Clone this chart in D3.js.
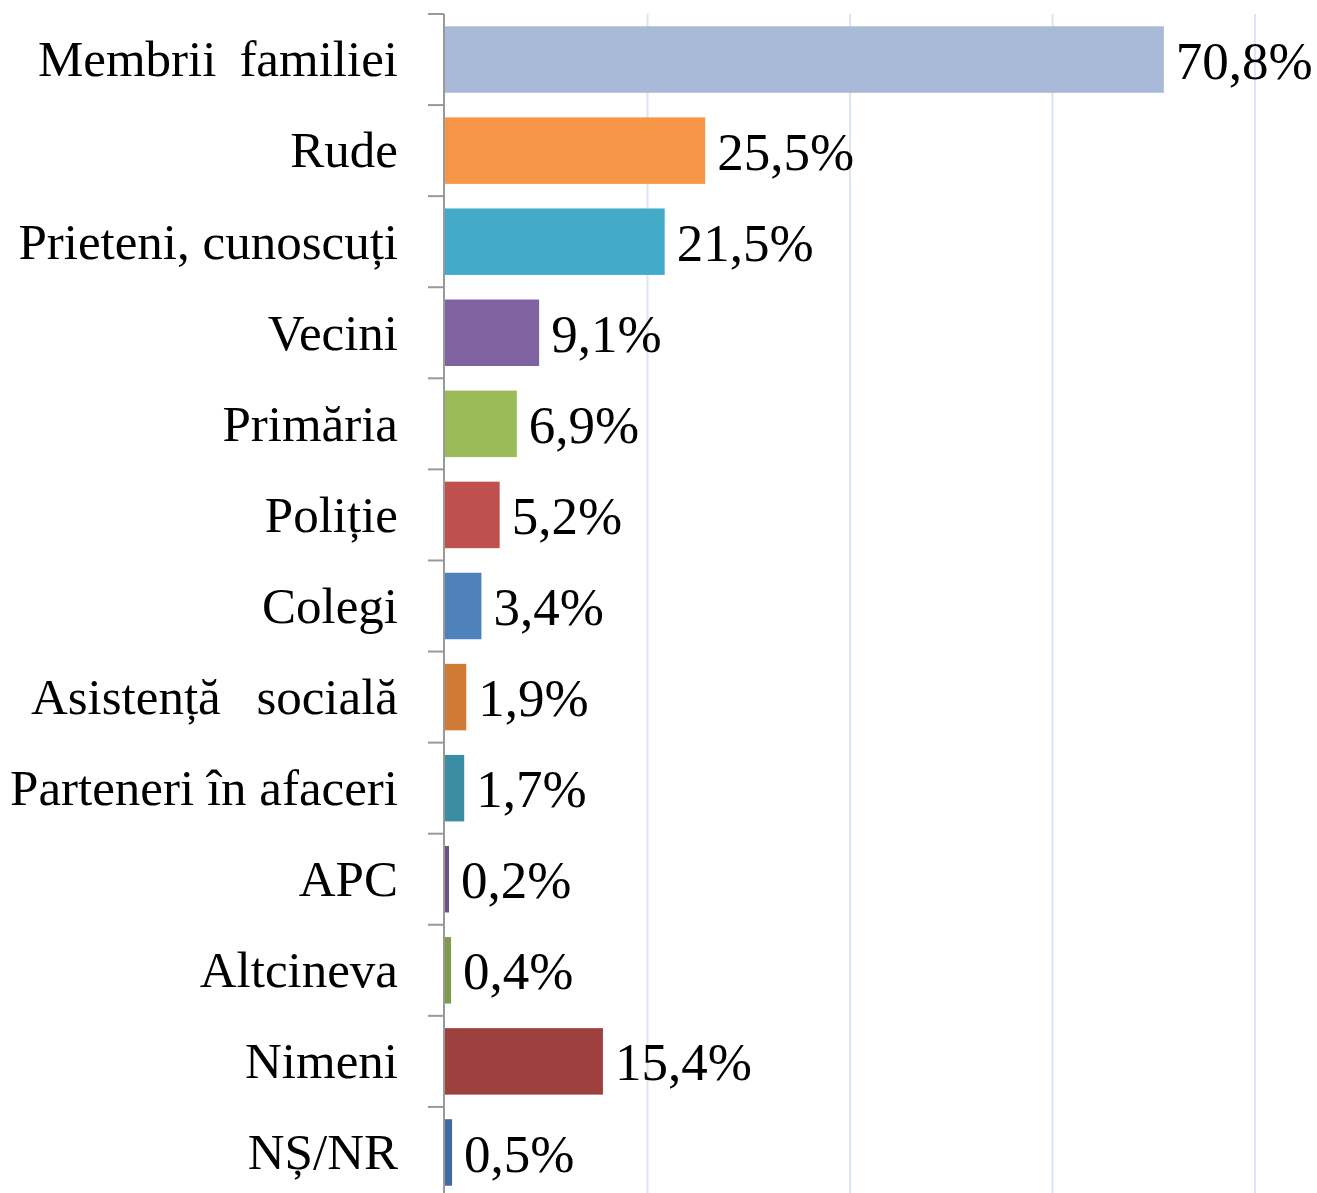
<!DOCTYPE html>
<html>
<head>
<meta charset="utf-8">
<script src="https://cdn.jsdelivr.net/npm/d3@7"></script>
<style>
    body { margin: 0; background: #fff; }
    svg text { font-family: "Liberation Serif", "Times New Roman", serif; fill: #000; }
</style>
</head>
<body>
<div id="chart"></div>
<script>
const categories = ["Membrii \u2009familiei", "Rude", "Prieteni, cunoscuți", "Vecini", "Primăria", "Poliție",
    "Colegi", "Asistență  \u2009socială", "Parteneri în afaceri", "APC", "Altcineva", "Nimeni", "NȘ/NR"];
const values = [70.8, 25.5, 21.5, 9.1, 6.9, 5.2, 3.4, 1.9, 1.7, 0.2, 0.4, 15.4, 0.5];
const barColors = ["#A9B9D8", "#F79646", "#43ABC8", "#8064A2", "#9BBB59", "#C0504D", "#4F81BD",
    "#CF7B36", "#3B8DA3", "#6A5187", "#7E9B48", "#9E413E", "#3F6AA1"];
const gridTicks = [0, 20, 40, 60, 80];

class BarChart {
    constructor(_config) {
        this.config = {
            parentElement: _config.parentElement,
            containerWidth: _config.containerWidth || 1317,
            containerHeight: _config.containerHeight || 1193,
            margin: _config.margin || {top: 14, right: 62, bottom: -5, left: 445}
        };
        this.initVis();
    }

    initVis() {
        let vis = this;
        vis.width = vis.config.containerWidth - vis.config.margin.left - vis.config.margin.right;
        vis.height = vis.config.containerHeight - vis.config.margin.top - vis.config.margin.bottom;

        vis.svg = d3.select(vis.config.parentElement).append("svg")
            .attr("width", vis.config.containerWidth)
            .attr("height", vis.config.containerHeight);

        vis.chart = vis.svg.append("g")
            .attr("transform", `translate(${vis.config.margin.left},${vis.config.margin.top})`);

        vis.x = d3.scaleLinear().domain([0, 80]).range([0, 810]);
        vis.y = d3.scaleBand().domain(categories).range([0, vis.height])
            .paddingInner(0.27).paddingOuter(0.135);

        vis.renderVis();
    }

    renderVis() {
        let vis = this;
        const data = categories.map((c, i) => ({cat: c, value: values[i], color: barColors[i]}));
        const barEnd = d => vis.x(d.value) + 2;

        // light vertical gridlines
        vis.chart.selectAll(".grid")
            .data(gridTicks.slice(1))
            .join("line")
            .attr("class", "grid")
            .attr("x1", d => vis.x(d)).attr("x2", d => vis.x(d))
            .attr("y1", 0).attr("y2", vis.height)
            .attr("stroke", "#DCE6F2")
            .attr("stroke-width", 2);

        vis.chart.selectAll(".bar")
            .data(data)
            .join("rect")
            .attr("class", "bar")
            .attr("x", -1)
            .attr("y", d => vis.y(d.cat))
            .attr("width", d => barEnd(d) + 1)
            .attr("height", vis.y.bandwidth())
            .attr("fill", d => d.color);

        // category axis, ticks sit between the bands
        const step = vis.y.step();
        const yAxis = vis.chart.append("g").attr("class", "y-axis");
        yAxis.append("line")
            .attr("x1", -1).attr("x2", -1)
            .attr("y1", 0).attr("y2", vis.height)
            .attr("stroke", "#999").attr("stroke-width", 2);
        yAxis.selectAll(".tick")
            .data(d3.range(categories.length + 1))
            .join("line")
            .attr("class", "tick")
            .attr("x1", -17).attr("x2", -1)
            .attr("y1", i => i * step).attr("y2", i => i * step)
            .attr("stroke", "#999").attr("stroke-width", 2);

        yAxis.selectAll(".label")
            .data(data)
            .join("text")
            .attr("class", "label")
            .attr("x", -47)
            .attr("y", d => vis.y(d.cat) + vis.y.bandwidth() / 2)
            .attr("dy", "0.33em")
            .attr("text-anchor", "end")
            .attr("font-size", 51)
            .style("white-space", "pre")
            .text(d => d.cat);

        vis.chart.selectAll(".value")
            .data(data)
            .join("text")
            .attr("class", "value")
            .attr("x", d => barEnd(d) + 12)
            .attr("y", d => vis.y(d.cat) + vis.y.bandwidth() / 2)
            .attr("dy", "0.36em")
            .attr("font-size", 53)
            .text(d => d3.format(".1f")(d.value).replace(".", ",") + "%");
    }
}

new BarChart({parentElement: "#chart"});
</script>
</body>
</html>
